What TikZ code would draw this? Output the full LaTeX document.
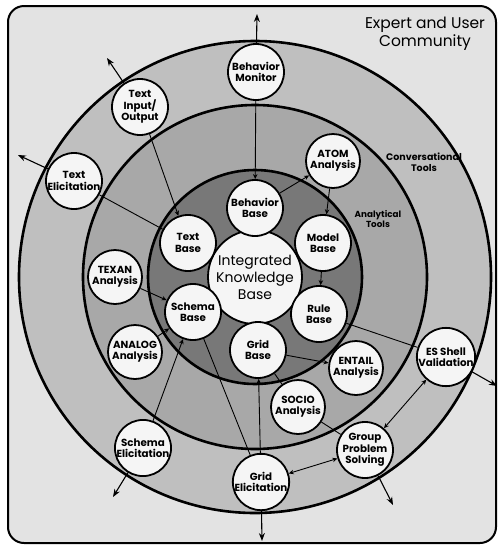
\documentclass[tikz,border=0pt]{standalone}
\usepackage{fontspec}
\setmainfont{Poppins}
\usetikzlibrary{arrows.meta}
\definecolor{gOut}{gray}{0.89}
\definecolor{gConv}{gray}{0.75}
\definecolor{gAna}{gray}{0.66}
\definecolor{gBase}{gray}{0.47}
\definecolor{gNode}{gray}{0.96}
\begin{document}
\begin{tikzpicture}[x=1pt,y=-1pt,
  ring/.style={draw=black,line width=2.6pt},
  bubble/.style={circle,draw=black,line width=1.8pt,fill=gNode,inner sep=0pt,
    align=center,font=\fontsize{10.3}{11.3}\selectfont\bfseries},
  convnode/.style={bubble,minimum size=56pt},
  ananode/.style={bubble,minimum size=54pt},
  basenode/.style={bubble,minimum size=56pt},
  ikbnode/.style={bubble,minimum size=94pt,font=\fontsize{14}{17}\selectfont},
  conn/.style={line width=0.9pt},
  tipend/.style={-{Stealth[length=5pt,width=4.5pt]}},
  tipboth/.style={{Stealth[length=5pt,width=4.5pt]}-{Stealth[length=5pt,width=4.5pt]}},
  outarrow/.style={line width=1.1pt,-{Stealth[length=8pt,width=6pt]}},
  ringlabel/.style={align=center,inner sep=0pt}
]
\useasboundingbox (0,0) rectangle (499,547);
\fill[white] (0,0) rectangle (499,547);
\draw[line width=2pt,rounded corners=16pt,fill=gOut] (8,6) rectangle (496,543);
\coordinate (c) at (255,277);
\draw[ring,fill=gConv] (c) circle[radius=236];
\draw[ring,fill=gAna] (c) circle[radius=172];
\draw[ring,fill=gBase] (c) circle[radius=107];

% labels
\node[ringlabel,font=\fontsize{15.5}{17.5}\selectfont] (community) at (425,34) {Expert and User\\Community};
\node[ringlabel,font=\fontsize{9.5}{11.5}\selectfont\bfseries] (convlab) at (424,162) {Conversational\\Tools};
\node[ringlabel,font=\fontsize{8.8}{10.5}\selectfont\bfseries] (analab) at (378,219) {Analytical\\Tools};

% base nodes
\node[ikbnode] (ikb) at (255,277) {Integrated\\Knowledge\\Base};
\node[basenode] (bb) at (255,208) {Behavior\\Base};
\node[basenode] (tb) at (188,243) {Text\\Base};
\node[basenode] (mb) at (323,243) {Model\\Base};
\node[basenode] (sb) at (193,312) {Schema\\Base};
\node[basenode] (rb) at (319,314) {Rule\\Base};
\node[basenode] (gb) at (258,350) {Grid\\Base};

% analytical tools
\node[ananode] (atom) at (333,161) {ATOM\\Analysis};
\node[ananode] (texan) at (115,277) {TEXAN\\Analysis};
\node[ananode] (analog) at (135,352) {ANALOG\\Analysis};
\node[ananode] (socio) at (298,407) {SOCIO\\Analysis};
\node[ananode] (entail) at (356,368) {ENTAIL\\Analysis};

% conversational tools
\node[convnode] (bmon) at (256,72) {Behavior\\Monitor};
\node[convnode] (tio) at (140,107) {Text\\Input/\\Output};
\node[convnode] (tel) at (74,181) {Text\\Elicitation};
\node[convnode] (sel) at (143,448) {Schema\\Elicitation};
\node[convnode] (gel) at (261,482) {Grid\\Elicitation};
\node[convnode] (gps) at (365,450) {Group\\Problem\\Solving};
\node[convnode] (esv) at (446,357) {ES Shell\\Validation};

% outward arrow tips
\coordinate (bmonT) at (257,14);
\coordinate (tioT) at (107,58);
\coordinate (telT) at (18,155);
\coordinate (selT) at (113,497);
\coordinate (gelT) at (262,541);
\coordinate (gpsT) at (393,505);
\coordinate (esvT) at (497,386);

\draw[outarrow] (bmon) -- (bmonT);
\draw[outarrow] (tio) -- (tioT);
\draw[outarrow] (tel) -- (telT);
\draw[outarrow] (sel) -- (selT);
\draw[outarrow] (gel) -- (gelT);
\draw[outarrow] (gps) -- (gpsT);
\draw[outarrow] (esv) -- (esvT);

% internal connectors
\draw[conn,tipend] (bmon) -- (bb);
\draw[conn,tipend] (tio) -- (tb);
\draw[conn] (tel) -- (tb);
\draw[conn,tipend] (texan) -- (sb);
\draw[conn,tipend] (analog) -- (sb);
\draw[conn,tipend] (sel) -- (sb);
\draw[conn] (sb) -- (gel);
\draw[conn,tipend] (gel) -- (gb);
\draw[conn,tipend] (bb) -- (atom);
\draw[conn,tipend] (atom) -- (mb);
\draw[conn,tipend] (mb) -- (rb);
\draw[conn] (rb) -- (esv);
\draw[conn,tipend] (gb) -- (entail);
\draw[conn] (gb) -- (socio);
\draw[conn] (socio) -- (gps);
\draw[conn,tipboth] (esv) -- (gps);
\draw[conn,tipboth] (gps) -- (gel);
\end{tikzpicture}
\end{document}
